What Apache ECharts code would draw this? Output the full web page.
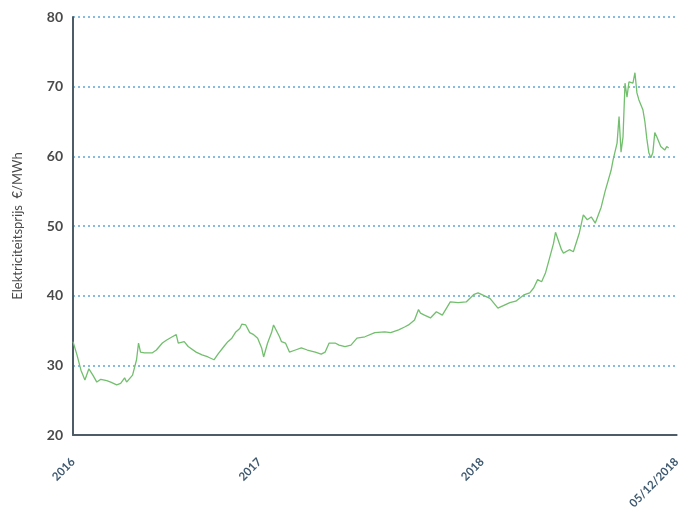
<!DOCTYPE html>
<html>
<head>
<meta charset="utf-8">
<script src="https://cdn.jsdelivr.net/npm/echarts@6/dist/echarts.min.js"></script>
<style>html,body{margin:0;padding:0;background:#fff;}#c{width:683px;height:519px;}</style>
</head>
<body>
<div id="c"></div>
<script>
// sample index along the time axis (uneven sampling of the daily series)
var sampleIndex = [0,2,4,6,8,10,12,14,17,19,22,24,26,27,30,32,33,34,36,40,42,45,47,50,51,52,53,56,58,62,65,68,71,73,76,78,80,82,84,85,87,89,91,93,95,96,98,100,101,102,104,105,107,109,112,115,118,122,125,127,129,132,134,137,140,143,147,152,157,160,164,167,169,172,174,175,177,180,183,186,190,194,198,202,204,207,210,214,217,220,223,227,230,232,234,236,238,240,242,243,244,246,247,250,252,255,257,259,261,263,266,268,271,272,274,275,276,277,278,279,280,282,283,284,285,287,288,289,290,291,292,293,294,296,297,298,299,300];
// electricity price, EUR/MWh
var price = [33.4,31.5,29.3,27.9,29.5,28.6,27.6,28.0,27.8,27.6,27.2,27.4,28.2,27.6,28.6,30.8,33.2,31.9,31.8,31.8,32.2,33.2,33.6,34.1,33.9,34.4,33.2,33.4,32.7,31.9,31.5,31.2,30.8,31.6,32.7,33.4,33.9,34.8,35.3,35.9,35.8,34.7,34.4,33.9,32.5,31.2,33.2,34.7,35.8,35.9,34.1,33.4,33.2,31.9,32.2,32.5,32.2,31.9,31.6,31.9,33.2,33.2,32.9,32.7,32.9,33.9,34.1,34.7,34.8,34.7,35.1,35.5,35.8,36.5,38.0,37.5,37.2,36.8,37.7,37.2,39.1,39.0,39.1,40.2,40.4,40.0,39.6,38.2,38.6,39.0,39.2,40.1,40.4,41.1,42.3,42.0,43.3,45.4,47.5,49.1,49.0,46.6,46.1,46.6,46.3,49.0,51.6,50.9,51.3,50.4,52.7,55.0,58.0,59.5,61.9,65.7,60.6,62.8,70.5,68.5,70.7,70.5,72.0,69.1,68.1,66.7,65.0,62.5,60.5,59.8,60.5,63.4,62.8,61.4,61.2,60.9,61.4,61.2];
var tickIndex = [0,94,206,304];
var tickLabels = ['2016','2017','2018','05/12/2018'];
var yName = 'Elektriciteitsprijs  €/MWh';

var data = sampleIndex.map(function(x,i){return [x, price[i]];});
var chart = echarts.init(document.getElementById('c'));
chart.setOption({
  animation:false,
  backgroundColor:'#fff',
  grid:{left:73,right:2,top:17,bottom:84,containLabel:false},
  xAxis:{
    type:'value', min:0, max:304,
    splitLine:{show:false},
    axisLine:{show:true,lineStyle:{color:'#4d5c66',width:2}},
    axisTick:{show:false},
    axisLabel:{
      customValues:tickIndex,
      rotate:45, margin:25, fontSize:11.5, color:'#3f5a70',
      fontFamily:'Lato, sans-serif', fontWeight:'bold',
      formatter:function(v){var k=tickIndex.indexOf(v);return k>=0?tickLabels[k]:'';}
    }
  },
  yAxis:{
    type:'value', min:20, max:80, interval:10,
    name:yName, nameLocation:'middle', nameGap:49,
    nameTextStyle:{fontSize:13,color:'#4a4a4a',fontFamily:'Lato, sans-serif',fontWeight:'normal'},
    axisLine:{show:true,lineStyle:{color:'#4d5c66',width:2}},
    axisTick:{show:false},
    axisLabel:{margin:10,fontSize:14,color:'#4a4a4a',fontFamily:'Lato, sans-serif',fontWeight:'bold'},
    splitLine:{show:true,lineStyle:{color:'#5fa8d3',width:1.5,type:[2,3]}}
  },
  series:[{
    type:'line', data:data, showSymbol:false, symbol:'none',
    lineStyle:{color:'#72bf6e',width:1.3}
  }]
});
</script>
</body>
</html>
